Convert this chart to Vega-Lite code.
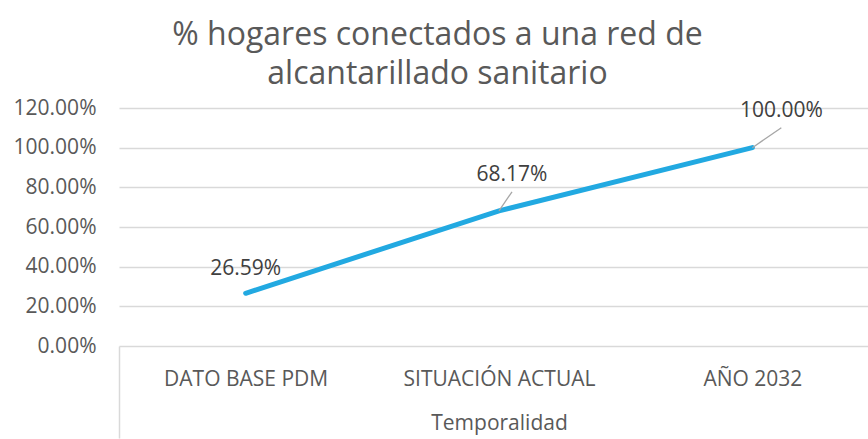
{
  "$schema": "https://vega.github.io/schema/vega-lite/v6.json",
  "width": 749,
  "height": 238,
  "autosize": {"type": "none"},
  "padding": {"left": 119, "top": 108, "right": 0, "bottom": 93},
  "background": "white",
  "config": {"view": {"stroke": null}, "font": "Open Sans"},
  "title": {
    "text": ["% hogares conectados a una red de", "alcantarillado sanitario"],
    "fontSize": 32,
    "font": "Open Sans",
    "fontWeight": "normal",
    "color": "#595959",
    "lineHeight": 39,
    "anchor": "middle",
    "dx": -56,
    "offset": 6
  },
  "data": {
    "values": [
      {"periodo": "DATO BASE PDM", "valor": 0.2659},
      {"periodo": "SITUACIÓN ACTUAL", "valor": 0.6817},
      {"periodo": "AÑO 2032", "valor": 1.0}
    ]
  },
  "encoding": {
    "x": {
      "field": "periodo",
      "type": "nominal",
      "sort": null,
      "bandPosition": 0.5,
      "scale": {"type": "band", "paddingInner": 0, "paddingOuter": 0, "range": [0, 760]},
      "axis": {
        "title": "Temporalidad",
        "titleFont": "Open Sans",
        "titleFontSize": 21,
        "titleFontWeight": "normal",
        "titleColor": "#595959",
        "titlePadding": -26,
        "labelAngle": 0,
        "labelFont": "Open Sans",
        "labelFontSize": 21,
        "labelColor": "#595959",
        "labelPadding": -70,
        "labelLimit": 400,
        "domain": false,
        "grid": false,
        "ticks": true,
        "tickBand": "extent",
        "tickSize": 92,
        "tickWidth": 1.5,
        "tickColor": {"condition": {"test": "datum.index < 0", "value": "#d9d9d9"}, "value": "transparent"}
      }
    },
    "y": {
      "field": "valor",
      "type": "quantitative",
      "scale": {"domain": [0, 1.2], "nice": false},
      "axis": {
        "title": null,
        "values": [0, 0.2, 0.4, 0.6, 0.8, 1.0, 1.2],
        "format": ".2%",
        "grid": true,
        "gridColor": "#d9d9d9",
        "gridWidth": 1.5,
        "domain": false,
        "ticks": false,
        "labelPadding": 23,
        "labelFont": "Open Sans",
        "labelFontSize": 21,
        "labelColor": "#595959"
      }
    }
  },
  "layer": [
    {
      "mark": {"type": "line", "color": "#22a9e1", "strokeWidth": 5, "strokeCap": "round"}
    },
    {
      "transform": [{"filter": "datum.periodo === 'SITUACIÓN ACTUAL'"}],
      "mark": {"type": "rule", "color": "#a6a6a6", "strokeWidth": 1.3, "x2Offset": 13, "y2Offset": -19},
      "encoding": {"x2": {"field": "periodo"}, "y2": {"field": "valor"}}
    },
    {
      "transform": [{"filter": "datum.periodo === 'AÑO 2032'"}],
      "mark": {"type": "rule", "color": "#a6a6a6", "strokeWidth": 1.3, "x2Offset": 29, "y2Offset": -20},
      "encoding": {"x2": {"field": "periodo"}, "y2": {"field": "valor"}}
    },
    {
      "transform": [{"filter": "datum.periodo === 'DATO BASE PDM'"}],
      "mark": {"type": "text", "dy": -24, "fontSize": 21, "color": "#404040", "font": "Open Sans"},
      "encoding": {"text": {"field": "valor", "type": "quantitative", "format": ".2%"}}
    },
    {
      "transform": [{"filter": "datum.periodo === 'SITUACIÓN ACTUAL'"}],
      "mark": {"type": "text", "dx": 13, "dy": -36, "fontSize": 21, "color": "#404040", "font": "Open Sans"},
      "encoding": {"text": {"field": "valor", "type": "quantitative", "format": ".2%"}}
    },
    {
      "transform": [{"filter": "datum.periodo === 'AÑO 2032'"}],
      "mark": {"type": "text", "dx": 29, "dy": -37, "fontSize": 21, "color": "#404040", "font": "Open Sans"},
      "encoding": {"text": {"field": "valor", "type": "quantitative", "format": ".2%"}}
    }
  ]
}
